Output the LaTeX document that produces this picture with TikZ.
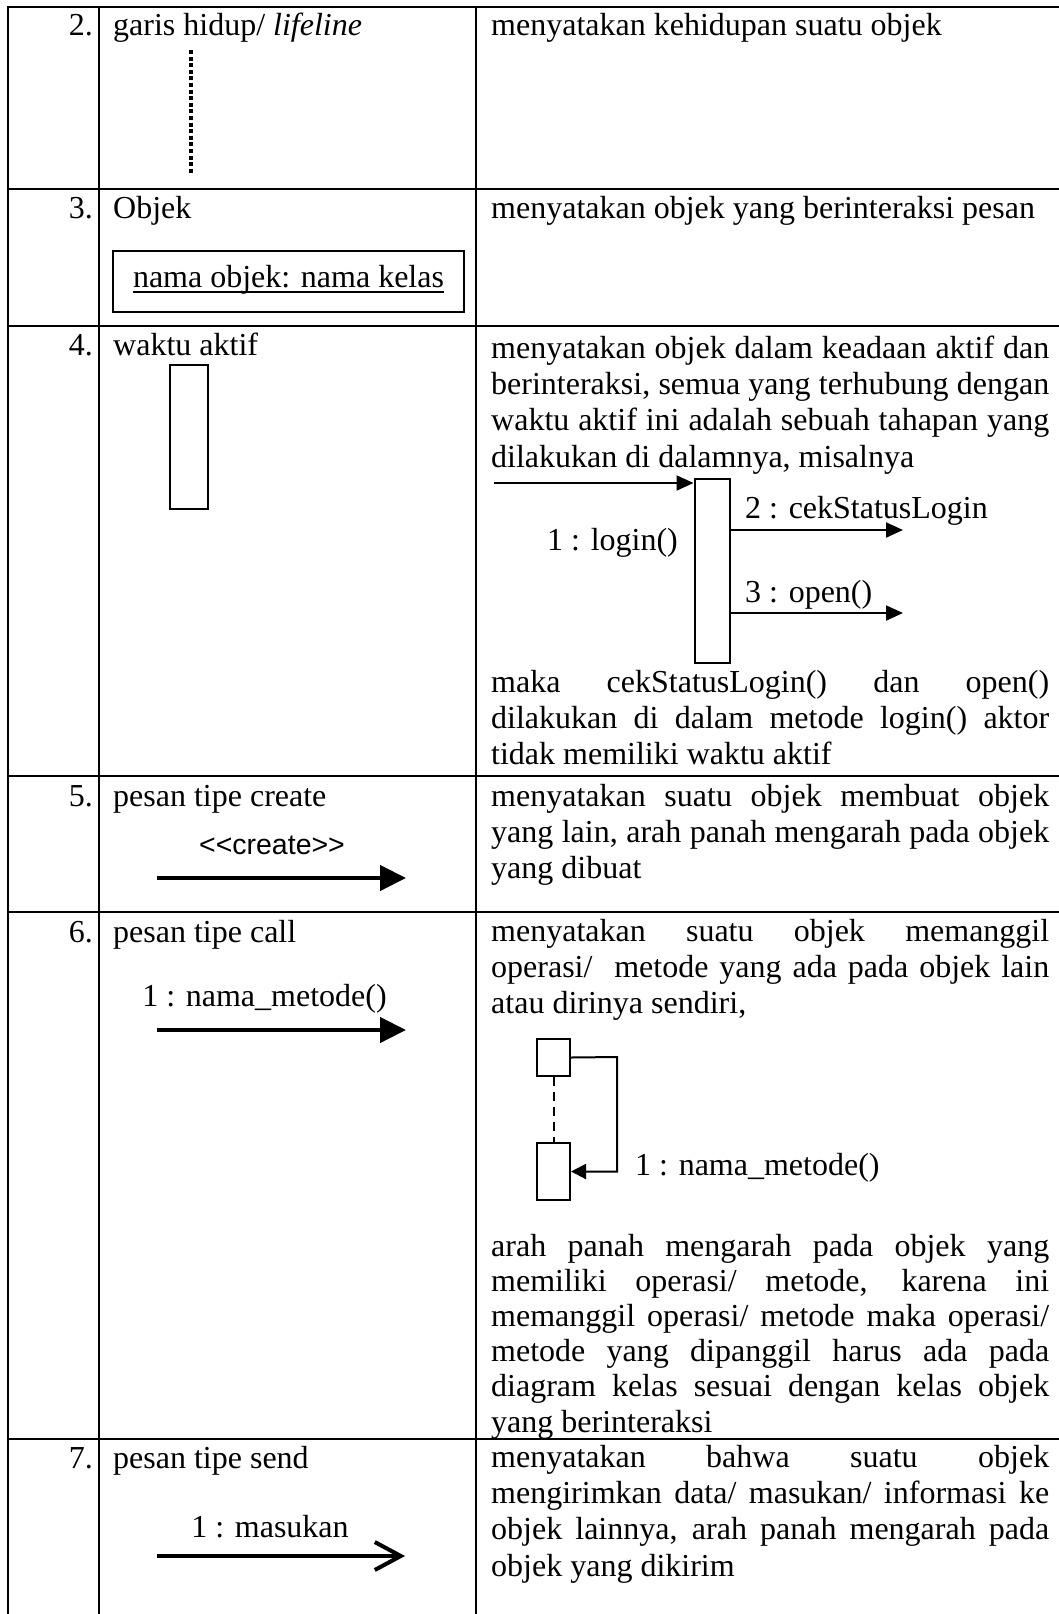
\documentclass[tikz,border=0pt]{standalone}
\usepackage{fontspec}
\setmainfont{Liberation Serif}
\setsansfont{Liberation Sans}
\usetikzlibrary{arrows.meta}
\newcommand\myul[1]{\setbox0\hbox{#1}\rlap{\rule[-6pt]{\wd0}{1.6pt}}\box0}
\newcommand\jl[1]{\makebox[558pt][s]{#1}}
\begin{document}
\begin{tikzpicture}[x=1pt,y=-1pt,
  txt/.style={anchor=base west, inner sep=0pt, font=\fontsize{32}{36.4}\selectfont},
  num/.style={anchor=base east, inner sep=0pt, font=\fontsize{32}{36.4}\selectfont},
  ctr/.style={anchor=base, inner sep=0pt, font=\fontsize{32}{36.4}\selectfont},
  tbl/.style={line width=1.5pt},
  boxs/.style={draw, line width=2pt, inner sep=0pt, anchor=north west},
  msg/.style={line width=2pt, -{Triangle[length=17pt,width=15pt]}},
  bigmsg/.style={line width=4.5pt, -{Triangle[length=26pt,width=25pt]}},
  sendmsg/.style={line width=4pt, -{Straight Barb[length=26pt,width=28pt]}},
  ]
\useasboundingbox (0,0) rectangle (1059,1614);
% table grid
\draw[tbl] (8,1614) -- (8,7) -- (1059,7);
\draw[tbl] (99,7) -- (99,1614);
\draw[tbl] (476,7) -- (476,1614);
\foreach \yy in {189,326,776,912,1439} \draw[tbl] (8,\yy) -- (1059,\yy);

% row 2
\node[num] (n2) at (93,35) {2.};
\node[txt] (t2) at (113,35) {garis hidup/ \textit{lifeline}};
\node[txt] (d2) at (491,35) {menyatakan kehidupan suatu objek};
\coordinate (lf1) at (191,50);
\coordinate (lf2) at (191,173);
\draw[line width=4pt, dash pattern=on 4pt off 2.6pt] (lf1) -- (lf2);

% row 3
\node[num] (n3) at (93,218) {3.};
\node[txt] (t3) at (113,218) {Objek};
\node[txt] (d3) at (491,218) {menyatakan objek yang berinteraksi pesan};
\node[draw, line width=2pt, inner sep=0pt, minimum width=351pt, minimum height=61pt,
      text height=20pt, text depth=9pt, font=\fontsize{32}{36.4}\selectfont]
      (objbox) at (288.5,281.5) {\myul{nama objek: nama kelas}};

% row 4
\node[num] (n4) at (93,355) {4.};
\node[txt] (t4) at (113,355) {waktu aktif};
\node[boxs, minimum width=38pt, minimum height=144pt] (act1) at (169,364) {};
\node[txt] (r4a) at (491,358) {\parbox[t]{558pt}{%
\jl{menyatakan objek dalam keadaan aktif dan}\\
\jl{berinteraksi, semua yang terhubung dengan}\\
\jl{waktu aktif ini adalah sebuah tahapan yang}\\
dilakukan di dalamnya, misalnya}};
\node[boxs, minimum width=35.5pt, minimum height=184pt] (act2) at (693.5,478) {};
\coordinate (in1) at (494,483);
\draw[msg] (in1) -- (in1 -| act2.west);
\coordinate (o2) at (903,530);
\coordinate (o3) at (903,613);
\draw[msg] (o2 -| act2.east) -- (o2);
\draw[msg] (o3 -| act2.east) -- (o3);
\node[txt] (lg) at (547,550) {1 : login()};
\node[txt] (ck) at (745,518) {2 : cekStatusLogin};
\node[txt] (op) at (745,602) {3 : open()};
\node[txt] (r4b) at (491,692) {\parbox[t]{558pt}{%
\jl{maka cekStatusLogin() dan open()}\\
\jl{dilakukan di dalam metode login() aktor}\\
tidak memiliki waktu aktif}};

% row 5
\node[num] (n5) at (93,806) {5.};
\node[txt] (t5) at (113,806) {pesan tipe create};
\node[anchor=base, inner sep=0pt, font=\sffamily\fontsize{28.5}{34}\selectfont]
      (cr) at (272,854) {<\kern0pt<create>\kern0pt>};
\coordinate (c5a) at (157,878);
\coordinate (c5b) at (406,878);
\draw[bigmsg] (c5a) -- (c5b);
\node[txt] (r5) at (491,806) {\parbox[t]{558pt}{%
\jl{menyatakan suatu objek membuat objek}\\
\jl{yang lain, arah panah mengarah pada objek}\\
yang dibuat}};

% row 6
\node[num] (n6) at (93,942) {6.};
\node[txt] (t6) at (113,942) {pesan tipe call};
\node[ctr] (cl) at (264.5,1006) {1 : nama\_metode()};
\coordinate (c6a) at (157,1030);
\coordinate (c6b) at (406,1030);
\draw[bigmsg] (c6a) -- (c6b);
\node[txt] (r6a) at (491,941) {\parbox[t]{558pt}{%
\jl{menyatakan suatu objek memanggil}\\
\jl{operasi/\ \ metode yang ada pada objek lain}\\
atau dirinya sendiri,}};
\node[boxs, minimum width=33pt, minimum height=37pt] (sc1) at (536,1038) {};
\node[boxs, minimum width=33pt, minimum height=57pt] (sc2) at (536,1142) {};
\draw[line width=2pt, dash pattern=on 9pt off 6pt] (sc1.south) -- (sc2.north);
\coordinate (scr) at (617,1057);
\draw[line width=2pt, -{Triangle[length=15pt,width=15pt]}] (sc1.east) -- (scr) |- (sc2.east);
\node[txt] (sl) at (635,1175) {1 : nama\_metode()};
\node[txt] (r6b) at (491,1256) {\parbox[t]{558pt}{\fontsize{32}{35.2}\selectfont
\jl{arah panah mengarah pada objek yang}\\
\jl{memiliki operasi/ metode, karena ini}\\
\jl{memanggil operasi/ metode maka operasi/}\\
\jl{metode yang dipanggil harus ada pada}\\
\jl{diagram kelas sesuai dengan kelas objek}\\
yang berinteraksi}};

% row 7
\node[num] (n7) at (93,1468) {7.};
\node[txt] (t7) at (113,1468) {pesan tipe send};
\node[ctr] (ms) at (270,1537) {1 : masukan};
\coordinate (c7a) at (157,1556);
\coordinate (c7b) at (405,1556);
\draw[sendmsg] (c7a) -- (c7b);
\node[txt] (r7) at (491,1467) {\parbox[t]{558pt}{%
\jl{menyatakan bahwa suatu objek}\\
\jl{mengirimkan data/ masukan/ informasi ke}\\
\jl{objek lainnya, arah panah mengarah pada}\\
objek yang dikirim}};
\end{tikzpicture}
\end{document}
